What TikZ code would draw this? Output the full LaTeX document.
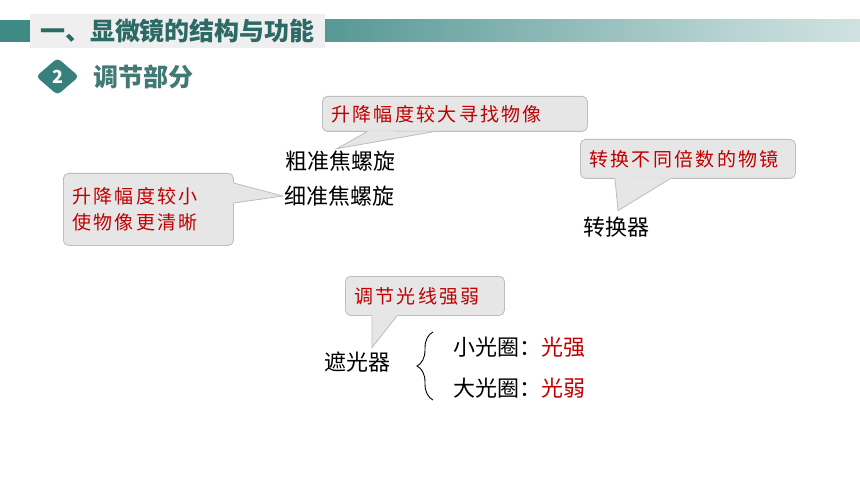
\documentclass[tikz,border=0pt]{standalone}
\usepackage{fontspec}
\setmainfont{Noto Sans CJK SC}
\newfontfamily\tipfont[LetterSpace=12]{Noto Sans CJK SC}
\usepackage{tikz}
\usetikzlibrary{positioning}
\usetikzlibrary{calc}
\usetikzlibrary{shapes.geometric}
\usetikzlibrary{decorations.pathreplacing}

\definecolor{barteal}{HTML}{408A86}
\definecolor{headteal}{HTML}{2C6A66}
\definecolor{badgeteal}{HTML}{37807B}
\definecolor{tipred}{HTML}{C00000}
\definecolor{tipfill}{HTML}{E6E6E6}
\definecolor{tipline}{HTML}{BDBDBD}
\definecolor{titlegrey}{HTML}{EFEFEF}
\pgfdeclarehorizontalshading{titlefade}{100bp}{color(0bp)=(barteal); color(25bp)=(barteal!88!white); color(65bp)=(barteal!35!white); color(100bp)=(white)}

% tail of a speech box: base point, tip, base point
\newcommand\tiptail[3]{%
    \fill[tipfill] ($(#1)!-1.5pt!(#2)$) -- (#2) -- ($(#3)!-1.5pt!(#2)$) -- cycle;
    \draw[tipline, line width=0.8pt] (#1) -- (#2) -- (#3);}

\begin{document}
\begin{tikzpicture}[
        x=1pt, y=-1pt,
        tipbox/.style={
            rectangle,
            draw=tipline,
            fill=tipfill,
            line width=0.8pt,
            rounded corners=5pt,
            inner xsep=9pt,
            inner ysep=0pt,
            anchor=north west,
            align=left,
            text=tipred,
            font=\tipfont\fontsize{19}{26}\selectfont
        },
        part/.style={
            inner sep=0pt,
            font=\fontsize{22}{26}\selectfont
        },
        heading/.style={
            inner sep=0pt,
            font=\bfseries\fontsize{25}{25}\selectfont
        }
    ]

    \fill[white] (0,0) rectangle (860,484);
    \useasboundingbox (0,0) rectangle (860,484);

    % Title bar
    \fill[barteal] (0,20) rectangle (30,42);
    \shade[shading=titlefade] (325,20) rectangle (860,42);
    \fill[titlegrey] (30,14) rectangle (325,48);
    \node[heading, text=headteal] (title) at (177.5,31) {一、显微镜的结构与功能};

    \node[diamond, fill=badgeteal, minimum width=43pt, minimum height=37pt,
          inner sep=0pt, rounded corners=4pt, text=white,
          font=\bfseries\fontsize{18}{18}\selectfont] (badge) at (57.5,76.5) {2};
    \node[heading, text=headteal!90!white, right=14pt of badge] (section) {调节部分};

    % Nodes
    \node[part] (coarse) at (340,161) {粗准焦螺旋};
    \node[part] (fine) at (339,196) {细准焦螺旋};
    \node[part] (turret) at (616,227) {转换器};
    \node[part] (diaphragm) at (357,362) {遮光器};
    \node[part, anchor=west] (smallstop) at (453,347) {小光圈：\textcolor{tipred}{光强}};
    \node[part, anchor=west] (largestop) at (453,388) {大光圈：\textcolor{tipred}{光弱}};

    % Speech boxes
    \node[tipbox, minimum width=265pt, minimum height=35pt, text width=247pt]
        (tipcoarse) at (322,96) {升降幅度较大寻找物像};
    \node[tipbox, minimum width=170pt, minimum height=72pt, text width=152pt]
        (tipfine) at (63,173) {升降幅度较小\\使物像更清晰};
    \node[tipbox, minimum width=215pt, minimum height=39pt, text width=197pt]
        (tipturret) at (580,139) {转换不同倍数的物镜};
    \node[tipbox, minimum width=159pt, minimum height=39pt, text width=141pt]
        (tipstop) at (345,276) {调节光线强弱};

    % Tails
    \coordinate (c1) at ([xshift=45pt]tipcoarse.south west);
    \coordinate (c2) at ([xshift=111pt]tipcoarse.south west);
    \coordinate (f1) at ([yshift=-10pt]tipfine.north east);
    \coordinate (f2) at ([yshift=-30pt]tipfine.north east);
    \coordinate (t1) at ([xshift=35pt]tipturret.south west);
    \coordinate (t2) at ([xshift=90pt]tipturret.south west);
    \coordinate (s1) at ([xshift=27pt]tipstop.south west);
    \coordinate (s2) at ([xshift=52pt]tipstop.south west);
    \coordinate (pc) at ([xshift=-3pt,yshift=2pt]coarse.north);
    \coordinate (pf) at ([xshift=-1pt]fine.west);
    \coordinate (pt) at ([xshift=2pt,yshift=6pt]turret.north);
    \coordinate (ps) at ([xshift=15pt,yshift=4pt]diaphragm.north);
    \tiptail{c1}{pc}{c2}
    \tiptail{f1}{pf}{f2}
    \tiptail{t1}{pt}{t2}
    \tiptail{s1}{ps}{s2}

    % Brace
    \coordinate (bracebot) at (433,400);
    \coordinate (bracetop) at (433,332);
    \draw[decorate, decoration={brace, amplitude=16pt}, line width=0.9pt] (bracebot) -- (bracetop);

\end{tikzpicture}
\end{document}
